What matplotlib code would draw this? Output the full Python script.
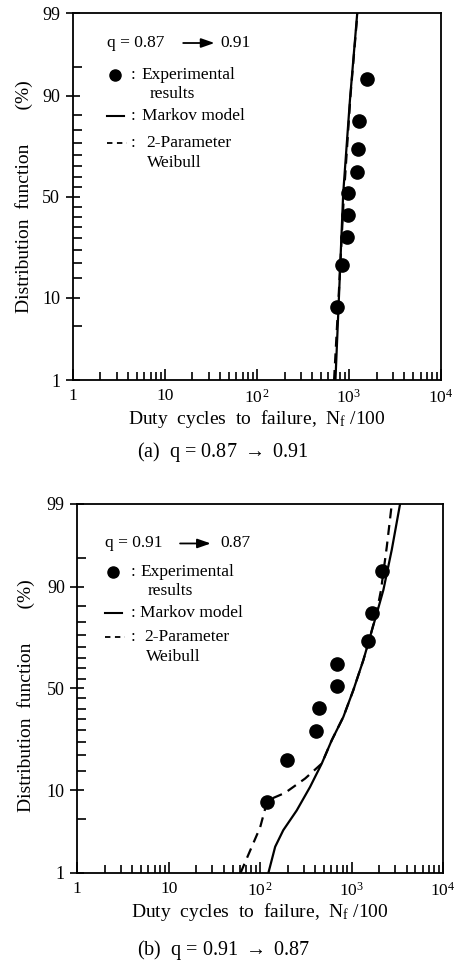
import numpy as np
import matplotlib
matplotlib.use("Agg")
import matplotlib.pyplot as plt
from matplotlib.ticker import FixedLocator, LogLocator, NullFormatter, FixedFormatter
from statistics import NormalDist

plt.rcParams['font.family'] = ['Liberation Serif', 'DejaVu Serif']
plt.rcParams['mathtext.fontset'] = 'custom'
plt.rcParams['mathtext.rm'] = 'Liberation Serif'
plt.rcParams['mathtext.it'] = 'Liberation Serif:italic'

# (a) q = 0.87 -> 0.91
rank_pct_a = [8.0, 19.3, 30.3, 40.8, 51.7, 62.4, 72.6, 83.3, 93.3]
cycles_a = [747, 833, 944, 968, 983, 1230, 1243, 1285, 1580]
markov_pct_a = [1, 13.1, 51.8, 89, 99]
markov_cyc_a = [714, 789, 867, 1026, 1231]
weibull_pct_a = [1, 10, 50, 90, 99]
weibull_cyc_a = [690, 772, 880, 1040, 1238]

# (b) q = 0.91 -> 0.87
rank_pct_b = [7.6, 18.4, 29.7, 40.1, 51.3, 62.1, 72.7, 82.8, 93.1]
cycles_b = [118, 196, 409, 445, 700, 700, 1528, 1690, 2138]
markov_pct_b = [1, 2.3, 3.7, 6.2, 10.7, 17.2, 25.7, 36, 49.2, 64, 74.3, 82.8, 89.3, 96, 99]
markov_cyc_b = [123, 146, 179, 251, 351, 472, 607, 813, 1046, 1346, 1594, 1887, 2229,
                2754, 3393]
weibull_pct_b = [1, 2.3, 4.0, 7.9, 9.4, 12.8, 17.2, 25.7, 36, 49.2, 64, 74.3, 82.8, 89.3,
                 96.3, 99]
weibull_cyc_b = [61, 81, 100, 120, 187, 310, 472, 607, 813, 1046, 1346, 1594, 1870, 2100,
                 2428, 2754]

y_major = [1, 10, 50, 90, 99]
y_minor = [5, 15, 20, 25, 30, 35, 40, 45, 55, 60, 65, 70, 75, 80, 85, 95]
x_major = [1, 10, 100, 1000, 10000]
x_labels = ['1', '10', r'$\mathregular{10^{\,2}}$', r'$\mathregular{10^3}$', r'$\mathregular{10^4}$']

_nd = NormalDist()
_inv = np.vectorize(lambda p: _nd.inv_cdf(min(max(p / 100.0, 1e-9), 1 - 1e-9)))
_cdf = np.vectorize(lambda z: 100.0 * _nd.cdf(z))


def prob_fwd(p):
    return _inv(np.asarray(p, dtype=float))


def prob_inv(z):
    return _cdf(np.asarray(z, dtype=float))


def draw_panel(ax, cyc, pct, m_cyc, m_pct, w_cyc, w_pct, q_from, q_to, key):
    ax.set_xscale('log')
    ax.set_yscale('function', functions=(prob_fwd, prob_inv))
    ax.set_xlim(1, 1e4)
    ax.set_ylim(1, 99)

    ax.plot(m_cyc, m_pct, color='black', lw=1.6, solid_joinstyle='round')
    ax.plot(w_cyc, w_pct, color='black', lw=1.6, dashes=(4.5, 3))
    ax.plot(cyc, pct, 'o', color='black', ms=9.5)

    ax.yaxis.set_major_locator(FixedLocator(y_major))
    ax.yaxis.set_minor_locator(FixedLocator(y_minor))
    ax.yaxis.set_major_formatter(FixedFormatter([str(v) for v in y_major]))
    ax.yaxis.set_minor_formatter(NullFormatter())
    ax.xaxis.set_major_locator(FixedLocator(x_major))
    ax.xaxis.set_major_formatter(FixedFormatter(x_labels))
    ax.xaxis.set_minor_locator(LogLocator(base=10, subs=np.arange(2, 10)))
    ax.xaxis.set_minor_formatter(NullFormatter())

    ax.tick_params(axis='y', which='major', direction='inout', length=10, width=1.2,
                   labelsize=13, pad=4)
    ax.tick_params(axis='y', which='minor', direction='in', length=6.5, width=1.2)
    ax.tick_params(axis='x', which='major', direction='in', length=8, width=1.2,
                   labelsize=12.5, pad=6)
    ax.tick_params(axis='x', which='minor', direction='in', length=5.8, width=1.2)
    for s in ax.spines.values():
        s.set_linewidth(1.3)

    ax.set_xlabel(r'Duty  cycles  to  failure,  N$_{\mathregular{f}}$ /100', fontsize=14)
    ax.xaxis.set_label_coords(0.5, -0.075)
    ax.set_ylabel('Distribution  function       (%)', fontsize=14)

    # key drawn inside the frame
    t = ax.transAxes
    x0 = key['x0']
    ax.text(x0, key['yq'], 'q = ' + q_from, transform=t, fontsize=12.5, va='center')
    ax.annotate('', xy=(key['ax1'], key['yq']), xytext=(key['ax0'], key['yq']),
                xycoords=t, textcoords=t,
                arrowprops=dict(arrowstyle='-|>,head_length=0.8,head_width=0.28',
                                color='black', lw=1.3, shrinkA=0, shrinkB=0))
    ax.text(key['xq2'], key['yq'], q_to, transform=t, fontsize=12.5, va='center')

    ax.plot([x0 + 0.022], [key['y1']], 'o', color='black', ms=8, transform=t, clip_on=False)
    ax.text(key['xc'], key['y1'], ':', transform=t, fontsize=12.5, va='center')
    ax.text(key['xt'], key['y1'], 'Experimental', transform=t, fontsize=12.5, va='center')
    ax.text(key['xt'] + 0.02, key['y1'] - 0.053, 'results', transform=t, fontsize=12.5,
            va='center')

    ax.plot([x0, x0 + 0.045], [key['y2'], key['y2']], color='black', lw=1.5, transform=t)
    ax.text(key['xc'], key['y2'], ':', transform=t, fontsize=12.5, va='center')
    ax.text(key['xt'], key['y2'], 'Markov model', transform=t, fontsize=12.5, va='center')

    ax.plot([x0, x0 + 0.055], [key['y3'], key['y3']], color='black', lw=1.3,
            dashes=(3, 2.5), transform=t)
    ax.text(key['xc'], key['y3'], ':', transform=t, fontsize=12.5, va='center')
    ax.text(key['xt'] + 0.012, key['y3'], '2-Parameter', transform=t, fontsize=12.5,
            va='center')
    ax.text(key['xt'] + 0.015, key['y3'] - 0.055, 'Weibull', transform=t, fontsize=12.5,
            va='center')


fig = plt.figure(figsize=(4.55, 9.64), dpi=100)
ax_a = fig.add_axes([0.1598, 0.6058, 0.8094, 0.3804])
ax_b = fig.add_axes([0.1699, 0.0944, 0.8037, 0.3828])

draw_panel(ax_a, cycles_a, rank_pct_a, markov_cyc_a, markov_pct_a,
           weibull_cyc_a, weibull_pct_a, '0.87', '0.91',
           dict(x0=0.093, yq=0.919, ax0=0.30, ax1=0.385, xq2=0.40,
                y1=0.833, y2=0.72, y3=0.646, xc=0.158, xt=0.188))
ax_a.yaxis.set_label_coords(-0.108, 0.5)

draw_panel(ax_b, cycles_b, rank_pct_b, markov_cyc_b, markov_pct_b,
           weibull_cyc_b, weibull_pct_b, '0.91', '0.87',
           dict(x0=0.076, yq=0.893, ax0=0.281, ax1=0.365, xq2=0.39,
                y1=0.817, y2=0.704, y3=0.640, xc=0.145, xt=0.172))
ax_b.yaxis.set_label_coords(-0.116, 0.48)

fig.text(0.49, 0.531, r'(a)  q = 0.87 $\rightarrow$ 0.91', ha='center', va='center',
         fontsize=14.5)
fig.text(0.49, 0.0145, r'(b)  q = 0.91 $\rightarrow$ 0.87', ha='center', va='center',
         fontsize=14.5)

fig.savefig('out.png', dpi=100)
